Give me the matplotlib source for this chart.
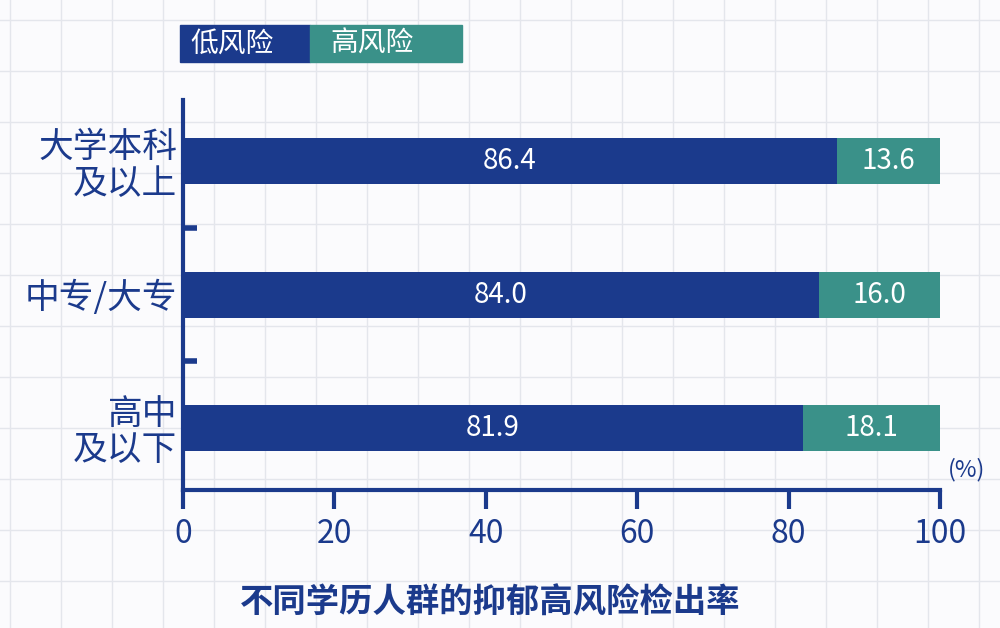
import matplotlib
matplotlib.use("Agg")
import matplotlib.pyplot as plt
import numpy as np

plt.rcParams['font.family'] = ['Noto Sans CJK SC', 'DejaVu Sans']

categories = ["大学本科\n及以上", "中专/大专", "高中\n及以下"]
low = [86.4, 84.0, 81.9]
high = [13.6, 16.0, 18.1]
xticks = [0, 20, 40, 60, 80, 100]
dark = "#1b3a8c"
teal = "#3a9189"

fig = plt.figure(figsize=(10, 6.28), dpi=100)
fig.patch.set_facecolor("#fbfbfd")
bg = fig.add_axes([0, 0, 1, 1], zorder=0)
bg.set_xlim(0, 1000); bg.set_ylim(628, 0); bg.axis("off")
for x in np.arange(10, 1000, 51):
    bg.axvline(x, color="#e4e6ec", lw=1, zorder=0)
for y in np.arange(20, 628, 51):
    bg.axhline(y, color="#e4e6ec", lw=1, zorder=0)

ax = fig.add_axes([0.183, 0.22, 0.757, 0.62], zorder=1)
ax.patch.set_alpha(0)
ypos = [2, 1, 0]
ax.barh(ypos, low, height=0.345, color=dark)
ax.barh(ypos, high, left=low, height=0.345, color=teal)
for y, l, h in zip(ypos, low, high):
    ax.text(l / 2, y, f"{l:.1f}", color="white", ha="center", va="center", fontsize=20)
    ax.text(l + h / 2, y, f"{h:.1f}", color="white", ha="center", va="center", fontsize=20)
ax.set_xlim(0, 100)
ax.set_ylim(-0.464, 2.457)
ax.set_xticks(xticks)
ax.set_xticklabels([str(t) for t in xticks], fontsize=23, color=dark)
ax.tick_params(axis="x", direction="out", length=14, width=3, color=dark, pad=6)
ax.set_yticks(ypos)
ax.set_yticklabels(categories, fontsize=25, color=dark, linespacing=1.05)
ax.set_yticks([1.5, 0.5], minor=True)
ax.tick_params(axis="y", which="major", length=0, pad=4)
ax.tick_params(axis="y", which="minor", direction="in", length=10, width=4, color=dark)
for s in ["top", "right"]:
    ax.spines[s].set_visible(False)
ax.spines["left"].set_color(dark); ax.spines["left"].set_linewidth(3)
ax.spines["bottom"].set_color(dark); ax.spines["bottom"].set_linewidth(3)
ax.text(101, -0.40, "(%)", fontsize=17, color=dark, va="bottom", ha="left", clip_on=False)

# legend
bg.add_patch(plt.Rectangle((180, 25), 130, 37, color=dark, zorder=3))
bg.add_patch(plt.Rectangle((310, 25), 152, 37, color=teal, zorder=3))
bg.text(190, 44, "低风险", color="white", fontsize=20, va="center", zorder=4)
bg.text(330, 44, "高风险", color="white", fontsize=20, va="center", zorder=4)

bg.text(490, 603, "不同学历人群的抑郁高风险检出率", color=dark, fontsize=24,
        fontweight="bold", ha="center", va="center")

fig.savefig("out.png", dpi=100, facecolor=fig.get_facecolor())
